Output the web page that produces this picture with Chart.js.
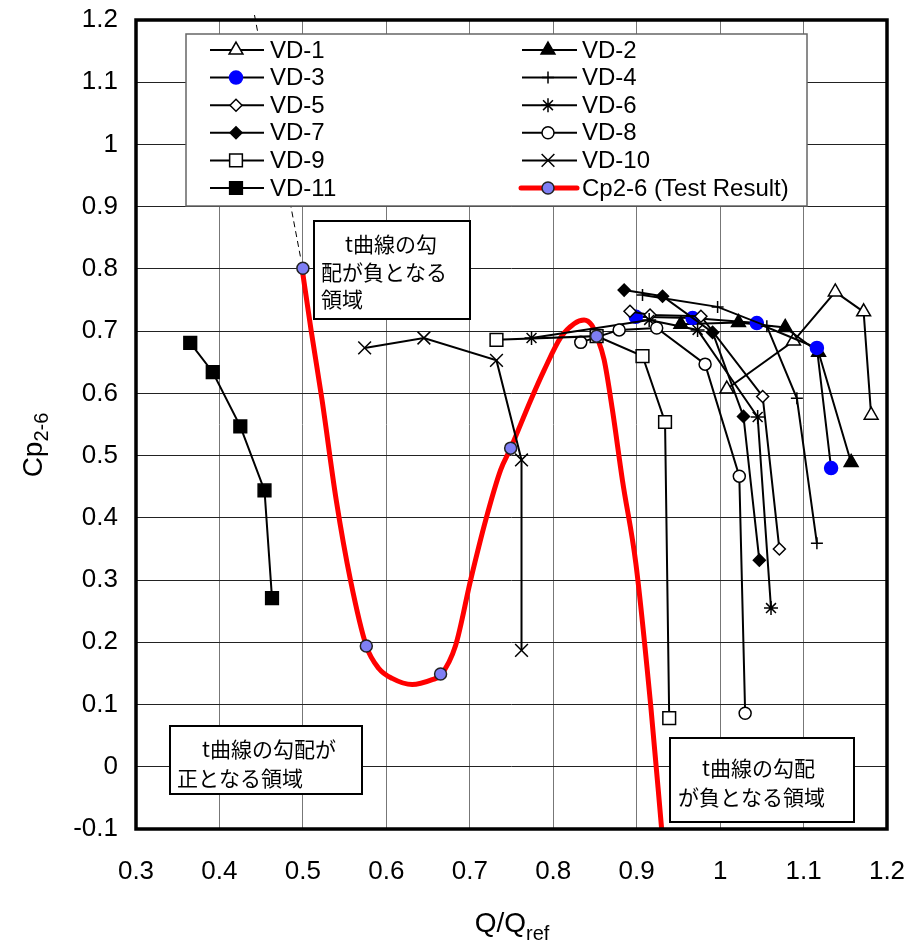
<!DOCTYPE html>
<html>
<head>
<meta charset="utf-8">
<script src="https://cdn.jsdelivr.net/npm/chart.js@4.4.1/dist/chart.umd.min.js"></script>
<style>
  html, body { margin: 0; padding: 0; background: #fff; }
  #wrap { width: 910px; height: 946px; }
</style>
</head>
<body>
<div id="wrap"><canvas id="chart" width="910" height="946"></canvas></div>
<script>
// values
const xTicks = [0.3, 0.4, 0.5, 0.6, 0.7, 0.8, 0.9, 1.0, 1.1, 1.2];
const yTicks = [-0.1, 0, 0.1, 0.2, 0.3, 0.4, 0.5, 0.6, 0.7, 0.8, 0.9, 1.0, 1.1, 1.2];

const vd1Q = [1.008, 1.088, 1.138, 1.172, 1.181];
const vd1Cp = [0.607, 0.684, 0.763, 0.731, 0.565];
const vd2Q = [0.953, 1.022, 1.078, 1.118, 1.157];
const vd2Cp = [0.711, 0.714, 0.706, 0.666, 0.489];
const vd3Q = [0.899, 0.967, 1.044, 1.116, 1.133];
const vd3Cp = [0.723, 0.721, 0.713, 0.673, 0.480];
const vd4Q = [0.907, 0.997, 1.056, 1.092, 1.116];
const vd4Cp = [0.758, 0.739, 0.708, 0.592, 0.359];
const vd5Q = [0.892, 0.916, 0.977, 1.051, 1.071];
const vd5Cp = [0.732, 0.726, 0.724, 0.595, 0.350];
const vd6Q = [0.774, 0.915, 0.973, 1.045, 1.061];
const vd6Cp = [0.689, 0.718, 0.702, 0.562, 0.255];
const vd7Q = [0.885, 0.931, 0.991, 1.028, 1.047];
const vd7Cp = [0.766, 0.756, 0.698, 0.563, 0.332];
const vd8Q = [0.833, 0.879, 0.924, 0.982, 1.023, 1.030];
const vd8Cp = [0.682, 0.702, 0.705, 0.647, 0.467, 0.086];
const vd9Q = [0.732, 0.852, 0.907, 0.934, 0.939];
const vd9Cp = [0.686, 0.692, 0.660, 0.554, 0.078];
const vd10Q = [0.574, 0.645, 0.732, 0.762, 0.762];
const vd10Cp = [0.673, 0.689, 0.653, 0.493, 0.187];
const vd11Q = [0.365, 0.392, 0.425, 0.454, 0.463];
const vd11Cp = [0.681, 0.634, 0.547, 0.444, 0.271];

// Cp2-6 test result: measured points and the drawn curve through them
const cpTestQ = [0.500, 0.576, 0.665, 0.749, 0.852];
const cpTestCp = [0.801, 0.194, 0.149, 0.512, 0.692];
const cpCurveQ = [0.499, 0.510, 0.523, 0.540, 0.557, 0.576, 0.591, 0.607, 0.631, 0.655, 0.665,
                  0.683, 0.701, 0.719, 0.737, 0.749, 0.773, 0.789, 0.809, 0.825, 0.837, 0.846,
                  0.852, 0.861, 0.871, 0.883, 0.899, 0.917, 0.930];
const cpCurveCp = [0.801, 0.700, 0.589, 0.428, 0.300, 0.194, 0.158, 0.142, 0.132, 0.140, 0.147,
                   0.195, 0.300, 0.396, 0.477, 0.512, 0.589, 0.637, 0.690, 0.712, 0.718, 0.710,
                   0.692, 0.654, 0.573, 0.460, 0.327, 0.096, -0.101];

// dashed guide line leaving the top of the plot
const guideQ = [0.442, 0.497];
const guideCp = [1.208, 0.820];

function toPoints(qs, cps) {
    return qs.map((q, i) => ({ x: q, y: cps[i] }));
}

function vdSet(label, qs, cps, style, radius, fill) {
    return {
        label: label,
        data: toPoints(qs, cps),
        borderColor: '#000',
        borderWidth: 2,
        pointStyle: style,
        pointRadius: radius,
        pointBackgroundColor: fill,
        pointBorderColor: fill === '#0000ff' ? '#0000ff' : '#000',
        pointBorderWidth: 1.5,
        showLine: true,
        tension: 0
    };
}

const cpMarkers = {
    label: 'Cp2-6 (Test Result)',
    data: toPoints(cpTestQ, cpTestCp),
    showLine: false,
    pointStyle: 'circle',
    pointRadius: 6,
    pointBackgroundColor: '#7f7ff5',
    pointBorderColor: '#222',
    pointBorderWidth: 1.5
};

const vdSets = [
    vdSet('VD-1', vd1Q, vd1Cp, 'triangle', 8, '#fff'),
    vdSet('VD-2', vd2Q, vd2Cp, 'triangle', 8, '#000'),
    vdSet('VD-3', vd3Q, vd3Cp, 'circle', 6.5, '#0000ff'),
    vdSet('VD-4', vd4Q, vd4Cp, 'cross', 6, '#000'),
    vdSet('VD-5', vd5Q, vd5Cp, 'rectRot', 6, '#fff'),
    vdSet('VD-6', vd6Q, vd6Cp, 'star', 7, '#000'),
    vdSet('VD-7', vd7Q, vd7Cp, 'rectRot', 6, '#000'),
    vdSet('VD-8', vd8Q, vd8Cp, 'circle', 6, '#fff'),
    vdSet('VD-9', vd9Q, vd9Cp, 'rect', 9, '#fff'),
    vdSet('VD-10', vd10Q, vd10Cp, 'crossRot', 9, '#000'),
    vdSet('VD-11', vd11Q, vd11Cp, 'rect', 9, '#000')
];

const cpCurve = {
    label: 'Cp2-6 curve',
    data: toPoints(cpCurveQ, cpCurveCp),
    borderColor: '#ff0000',
    borderWidth: 5,
    pointRadius: 0,
    showLine: true,
    cubicInterpolationMode: 'monotone'
};

const guideLine = {
    label: 'guide',
    data: toPoints(guideQ, guideCp),
    borderColor: '#000',
    borderWidth: 1,
    borderDash: [6, 4],
    pointRadius: 0,
    showLine: true,
    clip: false
};

// legend order, two columns
const legendLeft = [0, 2, 4, 6, 8, 10];
const legendRight = [1, 3, 5, 7, 9];

function drawMarker(ctx, ds, x, y) {
    const opts = {
        pointStyle: ds.pointStyle,
        radius: ds.pointRadius,
        rotation: 0,
        borderWidth: ds.pointBorderWidth
    };
    ctx.save();
    ctx.fillStyle = ds.pointBackgroundColor;
    ctx.strokeStyle = ds.pointBorderColor;
    ctx.lineWidth = ds.pointBorderWidth;
    Chart.helpers.drawPoint(ctx, opts, x, y);
    ctx.restore();
}

const decorPlugin = {
    id: 'decor',
    afterDatasetsDraw(chart) {
        const ctx = chart.ctx;
        const area = chart.chartArea;
        ctx.save();

        // legend box
        ctx.fillStyle = '#fff';
        ctx.fillRect(186, 34, 621, 172);
        ctx.strokeStyle = '#666';
        ctx.lineWidth = 1.5;
        ctx.strokeRect(186, 34, 621, 172);

        ctx.font = '24px "Liberation Sans", Arial, sans-serif';
        ctx.textBaseline = 'middle';
        ctx.textAlign = 'left';
        const rowY = i => 50 + i * 27.6;
        legendLeft.forEach((di, i) => {
            const ds = vdSets[di];
            const y = rowY(i);
            ctx.strokeStyle = '#000';
            ctx.lineWidth = 2;
            ctx.beginPath(); ctx.moveTo(210, y); ctx.lineTo(264, y); ctx.stroke();
            drawMarker(ctx, ds, 236, y);
            ctx.fillStyle = '#000';
            ctx.fillText(ds.label, 270, y + 1);
        });
        legendRight.forEach((di, i) => {
            const ds = vdSets[di];
            const y = rowY(i);
            ctx.strokeStyle = '#000';
            ctx.lineWidth = 2;
            ctx.beginPath(); ctx.moveTo(522, y); ctx.lineTo(577, y); ctx.stroke();
            drawMarker(ctx, ds, 548, y);
            ctx.fillStyle = '#000';
            ctx.fillText(ds.label, 582, y + 1);
        });
        const yCp = rowY(5);
        ctx.strokeStyle = '#ff0000';
        ctx.lineWidth = 5;
        ctx.lineCap = 'round';
        ctx.beginPath(); ctx.moveTo(521, yCp); ctx.lineTo(577, yCp); ctx.stroke();
        ctx.lineCap = 'butt';
        drawMarker(ctx, cpMarkers, 548, yCp);
        ctx.fillStyle = '#000';
        ctx.fillText(cpMarkers.label, 582, yCp + 1);

        // annotation boxes
        const boxes = [
            { r: [314, 221, 156, 98], lines: [['t曲線の勾', 345, 244], ['配が負となる', 321, 272], ['領域', 321, 299]] },
            { r: [170, 726, 192, 68], lines: [['t曲線の勾配が', 202, 749], ['正となる領域', 177, 778]] },
            { r: [670, 738, 184, 84], lines: [['t曲線の勾配', 702, 768], ['が負となる領域', 678, 797]] }
        ];
        ctx.font = '21px "Noto Sans CJK JP", sans-serif';
        boxes.forEach(b => {
            ctx.fillStyle = '#fff';
            ctx.fillRect(b.r[0], b.r[1], b.r[2], b.r[3]);
            ctx.strokeStyle = '#000';
            ctx.lineWidth = 2;
            ctx.strokeRect(b.r[0], b.r[1], b.r[2], b.r[3]);
            ctx.fillStyle = '#000';
            b.lines.forEach(l => ctx.fillText(l[0], l[1], l[2]));
        });

        // plot frame
        ctx.strokeStyle = '#000';
        ctx.lineWidth = 3.5;
        ctx.strokeRect(area.left, area.top, area.right - area.left, area.bottom - area.top);

        // axis titles with subscripts
        ctx.fillStyle = '#000';
        ctx.textBaseline = 'alphabetic';
        ctx.font = '28px "Liberation Sans", Arial, sans-serif';
        const qw = ctx.measureText('Q/Q').width;
        ctx.font = '20px "Liberation Sans", Arial, sans-serif';
        const rw = ctx.measureText('ref').width;
        let x0 = 512 - (qw + rw) / 2;
        ctx.font = '28px "Liberation Sans", Arial, sans-serif';
        ctx.fillText('Q/Q', x0, 932);
        ctx.font = '20px "Liberation Sans", Arial, sans-serif';
        ctx.fillText('ref', x0 + qw, 940);

        ctx.translate(42, 445);
        ctx.rotate(-Math.PI / 2);
        ctx.font = '28px "Liberation Sans", Arial, sans-serif';
        const cw = ctx.measureText('Cp').width;
        ctx.font = '20px "Liberation Sans", Arial, sans-serif';
        const sw = ctx.measureText('2-6').width;
        x0 = -(cw + sw) / 2;
        ctx.font = '28px "Liberation Sans", Arial, sans-serif';
        ctx.fillText('Cp', x0, 0);
        ctx.font = '20px "Liberation Sans", Arial, sans-serif';
        ctx.fillText('2-6', x0 + cw, 6);

        ctx.restore();
    }
};

const tickFont = { family: '"Liberation Sans", Arial, sans-serif', size: 26 };

function noOverhang(scale) {
    scale.paddingLeft = 0;
    scale.paddingRight = 0;
    scale.paddingTop = 0;
    scale.paddingBottom = 0;
}

new Chart(document.getElementById('chart'), {
    type: 'scatter',
    data: {
        datasets: [cpMarkers, guideLine].concat(vdSets.slice().reverse(), [cpCurve])
    },
    options: {
        responsive: false,
        devicePixelRatio: 1,
        animation: false,
        layout: { padding: { left: 0, top: 20, right: 23, bottom: 0 } },
        plugins: {
            legend: { display: false },
            tooltip: { enabled: false }
        },
        scales: {
            x: {
                type: 'linear',
                min: xTicks[0],
                max: xTicks[xTicks.length - 1],
                afterBuildTicks: scale => { scale.ticks = xTicks.map(v => ({ value: v })); },
                afterFit: scale => { scale.height = 117; noOverhang(scale); },
                border: { display: false },
                grid: { color: '#777', lineWidth: 1, drawTicks: false },
                ticks: {
                    color: '#000',
                    font: tickFont,
                    padding: 27,
                    maxRotation: 0,
                    callback: v => String(+v.toFixed(1))
                }
            },
            y: {
                type: 'linear',
                min: yTicks[0],
                max: yTicks[yTicks.length - 1],
                afterBuildTicks: scale => { scale.ticks = yTicks.map(v => ({ value: v })); },
                afterFit: scale => { scale.width = 136; noOverhang(scale); },
                border: { display: false },
                grid: { color: '#222', lineWidth: 1, drawTicks: false },
                ticks: {
                    color: '#000',
                    font: tickFont,
                    padding: 18,
                    callback: v => String(+v.toFixed(1))
                }
            }
        }
    },
    plugins: [decorPlugin]
});
</script>
</body>
</html>
